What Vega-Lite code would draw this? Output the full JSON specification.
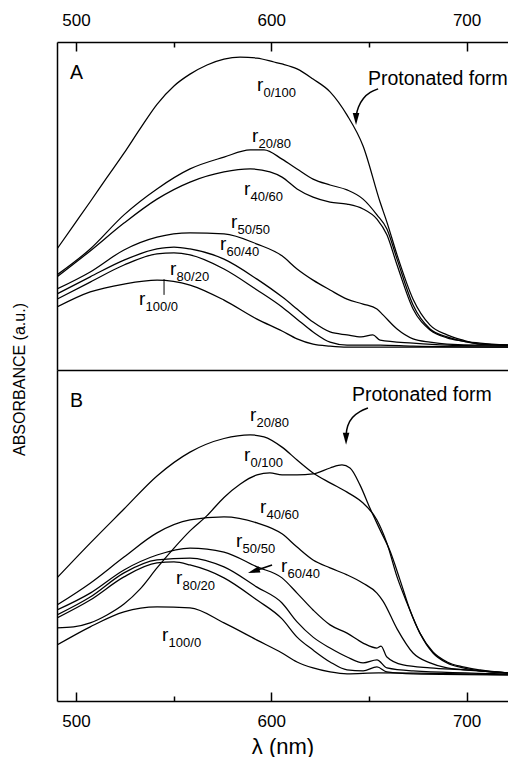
{
  "$schema": "https://vega.github.io/schema/vega-lite/v6.json",
  "padding": {"left": 11, "top": 7, "right": 0, "bottom": 0},
  "spacing": 0,
  "bounds": "flush",
  "config": {
    "font": "Liberation Sans",
    "view": {"stroke": null},
    "mark": {"color": "black"},
    "axis": {"grid": false, "domainColor": "black", "tickColor": "black", "labelColor": "black", "titleColor": "black", "domainWidth": 1.5, "tickWidth": 1.5, "labelFontSize": 17, "labelFont": "Liberation Sans", "titleFont": "Liberation Sans", "titleFontWeight": "normal"}
  },
  "datasets": {
    "A": [
      {"ratio":"0/100","lam":490.3,"abs":0.369},{"ratio":"0/100","lam":498.8,"abs":0.441},{"ratio":"0/100","lam":507.3,"abs":0.513},{"ratio":"0/100","lam":515.9,"abs":0.587},{"ratio":"0/100","lam":524.6,"abs":0.661},{"ratio":"0/100","lam":532.8,"abs":0.735},{"ratio":"0/100","lam":541.5,"abs":0.810},{"ratio":"0/100","lam":550.2,"abs":0.866},{"ratio":"0/100","lam":558.4,"abs":0.902},{"ratio":"0/100","lam":567.1,"abs":0.930},{"ratio":"0/100","lam":575.8,"abs":0.948},{"ratio":"0/100","lam":584.0,"abs":0.954},{"ratio":"0/100","lam":592.7,"abs":0.951},{"ratio":"0/100","lam":601.4,"abs":0.939},{"ratio":"0/100","lam":605.5,"abs":0.933},{"ratio":"0/100","lam":613.2,"abs":0.918},{"ratio":"0/100","lam":621.4,"abs":0.887},{"ratio":"0/100","lam":630.1,"abs":0.848},{"ratio":"0/100","lam":638.8,"abs":0.777},{"ratio":"0/100","lam":647.0,"abs":0.683},{"ratio":"0/100","lam":655.7,"abs":0.512},{"ratio":"0/100","lam":659.2,"abs":0.451},{"ratio":"0/100","lam":664.4,"abs":0.351},{"ratio":"0/100","lam":672.6,"abs":0.216},{"ratio":"0/100","lam":681.3,"abs":0.137},{"ratio":"0/100","lam":690.0,"abs":0.107},{"ratio":"0/100","lam":698.2,"abs":0.091},{"ratio":"0/100","lam":706.9,"abs":0.079},{"ratio":"0/100","lam":721.2,"abs":0.076},
      {"ratio":"20/80","lam":490.3,"abs":0.290},{"ratio":"20/80","lam":507.3,"abs":0.369},{"ratio":"20/80","lam":524.6,"abs":0.473},{"ratio":"20/80","lam":541.5,"abs":0.552},{"ratio":"20/80","lam":558.4,"abs":0.613},{"ratio":"20/80","lam":575.8,"abs":0.649},{"ratio":"20/80","lam":589.2,"abs":0.671},{"ratio":"20/80","lam":596.3,"abs":0.671},{"ratio":"20/80","lam":605.5,"abs":0.643},{"ratio":"20/80","lam":613.2,"abs":0.613},{"ratio":"20/80","lam":621.4,"abs":0.582},{"ratio":"20/80","lam":630.1,"abs":0.564},{"ratio":"20/80","lam":638.8,"abs":0.549},{"ratio":"20/80","lam":647.0,"abs":0.521},{"ratio":"20/80","lam":654.1,"abs":0.473},{"ratio":"20/80","lam":659.2,"abs":0.430},{"ratio":"20/80","lam":664.4,"abs":0.338},{"ratio":"20/80","lam":672.6,"abs":0.198},{"ratio":"20/80","lam":681.3,"abs":0.125},{"ratio":"20/80","lam":690.0,"abs":0.101},{"ratio":"20/80","lam":698.2,"abs":0.088},{"ratio":"20/80","lam":706.9,"abs":0.082},{"ratio":"20/80","lam":721.2,"abs":0.076},
      {"ratio":"40/60","lam":490.3,"abs":0.284},{"ratio":"40/60","lam":507.3,"abs":0.363},{"ratio":"40/60","lam":524.6,"abs":0.448},{"ratio":"40/60","lam":541.5,"abs":0.521},{"ratio":"40/60","lam":558.4,"abs":0.573},{"ratio":"40/60","lam":575.8,"abs":0.604},{"ratio":"40/60","lam":589.2,"abs":0.613},{"ratio":"40/60","lam":599.3,"abs":0.604},{"ratio":"40/60","lam":605.5,"abs":0.588},{"ratio":"40/60","lam":613.2,"abs":0.552},{"ratio":"40/60","lam":621.4,"abs":0.527},{"ratio":"40/60","lam":630.1,"abs":0.512},{"ratio":"40/60","lam":638.8,"abs":0.506},{"ratio":"40/60","lam":647.0,"abs":0.491},{"ratio":"40/60","lam":654.1,"abs":0.460},{"ratio":"40/60","lam":659.2,"abs":0.412},{"ratio":"40/60","lam":664.4,"abs":0.320},{"ratio":"40/60","lam":672.6,"abs":0.186},{"ratio":"40/60","lam":681.3,"abs":0.122},{"ratio":"40/60","lam":690.0,"abs":0.098},{"ratio":"40/60","lam":698.2,"abs":0.088},{"ratio":"40/60","lam":706.9,"abs":0.079},{"ratio":"40/60","lam":721.2,"abs":0.076},
      {"ratio":"50/50","lam":490.3,"abs":0.247},{"ratio":"50/50","lam":507.3,"abs":0.299},{"ratio":"50/50","lam":524.6,"abs":0.366},{"ratio":"50/50","lam":541.5,"abs":0.405},{"ratio":"50/50","lam":558.4,"abs":0.418},{"ratio":"50/50","lam":575.8,"abs":0.415},{"ratio":"50/50","lam":592.7,"abs":0.384},{"ratio":"50/50","lam":605.5,"abs":0.348},{"ratio":"50/50","lam":613.2,"abs":0.308},{"ratio":"50/50","lam":621.4,"abs":0.274},{"ratio":"50/50","lam":630.1,"abs":0.244},{"ratio":"50/50","lam":638.8,"abs":0.216},{"ratio":"50/50","lam":647.0,"abs":0.201},{"ratio":"50/50","lam":654.1,"abs":0.186},{"ratio":"50/50","lam":657.2,"abs":0.168},{"ratio":"50/50","lam":664.4,"abs":0.125},{"ratio":"50/50","lam":672.6,"abs":0.095},{"ratio":"50/50","lam":681.3,"abs":0.085},{"ratio":"50/50","lam":690.0,"abs":0.079},{"ratio":"50/50","lam":706.9,"abs":0.076},{"ratio":"50/50","lam":721.2,"abs":0.076},
      {"ratio":"60/40","lam":490.3,"abs":0.232},{"ratio":"60/40","lam":507.3,"abs":0.284},{"ratio":"60/40","lam":524.6,"abs":0.335},{"ratio":"60/40","lam":541.5,"abs":0.369},{"ratio":"60/40","lam":550.2,"abs":0.375},{"ratio":"60/40","lam":558.4,"abs":0.369},{"ratio":"60/40","lam":575.8,"abs":0.338},{"ratio":"60/40","lam":592.7,"abs":0.277},{"ratio":"60/40","lam":605.5,"abs":0.223},{"ratio":"60/40","lam":613.2,"abs":0.186},{"ratio":"60/40","lam":621.4,"abs":0.146},{"ratio":"60/40","lam":630.1,"abs":0.116},{"ratio":"60/40","lam":638.8,"abs":0.107},{"ratio":"60/40","lam":646.0,"abs":0.101},{"ratio":"60/40","lam":652.0,"abs":0.107},{"ratio":"60/40","lam":655.7,"abs":0.091},{"ratio":"60/40","lam":672.6,"abs":0.082},{"ratio":"60/40","lam":690.0,"abs":0.076},{"ratio":"60/40","lam":721.2,"abs":0.073},
      {"ratio":"80/20","lam":490.3,"abs":0.216},{"ratio":"80/20","lam":507.3,"abs":0.268},{"ratio":"80/20","lam":524.6,"abs":0.320},{"ratio":"80/20","lam":541.5,"abs":0.354},{"ratio":"80/20","lam":550.2,"abs":0.357},{"ratio":"80/20","lam":558.4,"abs":0.351},{"ratio":"80/20","lam":575.8,"abs":0.308},{"ratio":"80/20","lam":592.7,"abs":0.244},{"ratio":"80/20","lam":605.5,"abs":0.192},{"ratio":"80/20","lam":613.2,"abs":0.155},{"ratio":"80/20","lam":621.4,"abs":0.116},{"ratio":"80/20","lam":630.1,"abs":0.085},{"ratio":"80/20","lam":638.8,"abs":0.076},{"ratio":"80/20","lam":655.7,"abs":0.076},{"ratio":"80/20","lam":672.6,"abs":0.073},{"ratio":"80/20","lam":721.2,"abs":0.070},
      {"ratio":"100/0","lam":490.3,"abs":0.192},{"ratio":"100/0","lam":507.3,"abs":0.238},{"ratio":"100/0","lam":524.6,"abs":0.262},{"ratio":"100/0","lam":541.5,"abs":0.274},{"ratio":"100/0","lam":558.4,"abs":0.259},{"ratio":"100/0","lam":575.8,"abs":0.213},{"ratio":"100/0","lam":592.7,"abs":0.155},{"ratio":"100/0","lam":605.5,"abs":0.119},{"ratio":"100/0","lam":613.2,"abs":0.095},{"ratio":"100/0","lam":621.4,"abs":0.079},{"ratio":"100/0","lam":630.1,"abs":0.073},{"ratio":"100/0","lam":638.8,"abs":0.070},{"ratio":"100/0","lam":672.6,"abs":0.070},{"ratio":"100/0","lam":721.2,"abs":0.070}
    ],
    "B": [
      {"ratio":"20/80","lam":490.3,"abs":0.372},{"ratio":"20/80","lam":507.3,"abs":0.477},{"ratio":"20/80","lam":524.6,"abs":0.580},{"ratio":"20/80","lam":541.5,"abs":0.680},{"ratio":"20/80","lam":558.4,"abs":0.752},{"ratio":"20/80","lam":575.8,"abs":0.793},{"ratio":"20/80","lam":589.2,"abs":0.804},{"ratio":"20/80","lam":596.3,"abs":0.798},{"ratio":"20/80","lam":605.5,"abs":0.767},{"ratio":"20/80","lam":613.2,"abs":0.728},{"ratio":"20/80","lam":621.4,"abs":0.689},{"ratio":"20/80","lam":630.1,"abs":0.659},{"ratio":"20/80","lam":638.8,"abs":0.631},{"ratio":"20/80","lam":647.0,"abs":0.598},{"ratio":"20/80","lam":654.1,"abs":0.547},{"ratio":"20/80","lam":659.2,"abs":0.477},{"ratio":"20/80","lam":664.4,"abs":0.375},{"ratio":"20/80","lam":669.5,"abs":0.296},{"ratio":"20/80","lam":676.1,"abs":0.205},{"ratio":"20/80","lam":682.8,"abs":0.145},{"ratio":"20/80","lam":690.0,"abs":0.115},{"ratio":"20/80","lam":698.2,"abs":0.100},{"ratio":"20/80","lam":706.9,"abs":0.091},{"ratio":"20/80","lam":721.2,"abs":0.085},
      {"ratio":"0/100","lam":490.3,"abs":0.221},{"ratio":"0/100","lam":498.8,"abs":0.224},{"ratio":"0/100","lam":507.3,"abs":0.236},{"ratio":"0/100","lam":515.9,"abs":0.260},{"ratio":"0/100","lam":524.6,"abs":0.293},{"ratio":"0/100","lam":532.8,"abs":0.338},{"ratio":"0/100","lam":541.5,"abs":0.402},{"ratio":"0/100","lam":550.2,"abs":0.462},{"ratio":"0/100","lam":558.4,"abs":0.514},{"ratio":"0/100","lam":567.1,"abs":0.560},{"ratio":"0/100","lam":575.8,"abs":0.615},{"ratio":"0/100","lam":584.0,"abs":0.655},{"ratio":"0/100","lam":592.7,"abs":0.683},{"ratio":"0/100","lam":599.3,"abs":0.689},{"ratio":"0/100","lam":605.5,"abs":0.683},{"ratio":"0/100","lam":613.2,"abs":0.683},{"ratio":"0/100","lam":621.4,"abs":0.686},{"ratio":"0/100","lam":630.1,"abs":0.704},{"ratio":"0/100","lam":636.2,"abs":0.713},{"ratio":"0/100","lam":640.3,"abs":0.704},{"ratio":"0/100","lam":645.4,"abs":0.653},{"ratio":"0/100","lam":650.5,"abs":0.583},{"ratio":"0/100","lam":655.7,"abs":0.517},{"ratio":"0/100","lam":660.8,"abs":0.453},{"ratio":"0/100","lam":665.9,"abs":0.366},{"ratio":"0/100","lam":671.0,"abs":0.275},{"ratio":"0/100","lam":676.1,"abs":0.205},{"ratio":"0/100","lam":682.8,"abs":0.148},{"ratio":"0/100","lam":690.0,"abs":0.118},{"ratio":"0/100","lam":698.2,"abs":0.103},{"ratio":"0/100","lam":706.9,"abs":0.094},{"ratio":"0/100","lam":721.2,"abs":0.085},
      {"ratio":"40/60","lam":490.3,"abs":0.290},{"ratio":"40/60","lam":507.3,"abs":0.356},{"ratio":"40/60","lam":524.6,"abs":0.435},{"ratio":"40/60","lam":541.5,"abs":0.508},{"ratio":"40/60","lam":558.4,"abs":0.547},{"ratio":"40/60","lam":575.8,"abs":0.556},{"ratio":"40/60","lam":592.7,"abs":0.538},{"ratio":"40/60","lam":605.5,"abs":0.505},{"ratio":"40/60","lam":613.2,"abs":0.465},{"ratio":"40/60","lam":621.4,"abs":0.426},{"ratio":"40/60","lam":630.1,"abs":0.402},{"ratio":"40/60","lam":638.8,"abs":0.381},{"ratio":"40/60","lam":647.0,"abs":0.356},{"ratio":"40/60","lam":654.1,"abs":0.326},{"ratio":"40/60","lam":657.2,"abs":0.302},{"ratio":"40/60","lam":664.4,"abs":0.218},{"ratio":"40/60","lam":672.6,"abs":0.145},{"ratio":"40/60","lam":681.3,"abs":0.115},{"ratio":"40/60","lam":690.0,"abs":0.100},{"ratio":"40/60","lam":706.9,"abs":0.091},{"ratio":"40/60","lam":721.2,"abs":0.085},
      {"ratio":"50/50","lam":490.3,"abs":0.275},{"ratio":"50/50","lam":507.3,"abs":0.326},{"ratio":"50/50","lam":524.6,"abs":0.396},{"ratio":"50/50","lam":541.5,"abs":0.441},{"ratio":"50/50","lam":558.4,"abs":0.462},{"ratio":"50/50","lam":575.8,"abs":0.450},{"ratio":"50/50","lam":592.7,"abs":0.405},{"ratio":"50/50","lam":605.5,"abs":0.372},{"ratio":"50/50","lam":613.2,"abs":0.326},{"ratio":"50/50","lam":621.4,"abs":0.275},{"ratio":"50/50","lam":630.1,"abs":0.230},{"ratio":"50/50","lam":638.8,"abs":0.205},{"ratio":"50/50","lam":647.0,"abs":0.175},{"ratio":"50/50","lam":654.1,"abs":0.160},{"ratio":"50/50","lam":656.2,"abs":0.166},{"ratio":"50/50","lam":659.2,"abs":0.133},{"ratio":"50/50","lam":667.5,"abs":0.109},{"ratio":"50/50","lam":681.3,"abs":0.100},{"ratio":"50/50","lam":698.2,"abs":0.094},{"ratio":"50/50","lam":721.2,"abs":0.085},
      {"ratio":"60/40","lam":490.3,"abs":0.260},{"ratio":"60/40","lam":507.3,"abs":0.314},{"ratio":"60/40","lam":524.6,"abs":0.387},{"ratio":"60/40","lam":541.5,"abs":0.426},{"ratio":"60/40","lam":558.4,"abs":0.432},{"ratio":"60/40","lam":575.8,"abs":0.405},{"ratio":"60/40","lam":592.7,"abs":0.344},{"ratio":"60/40","lam":605.5,"abs":0.296},{"ratio":"60/40","lam":613.2,"abs":0.239},{"ratio":"60/40","lam":621.4,"abs":0.193},{"ratio":"60/40","lam":630.1,"abs":0.160},{"ratio":"60/40","lam":638.8,"abs":0.133},{"ratio":"60/40","lam":647.0,"abs":0.115},{"ratio":"60/40","lam":654.1,"abs":0.124},{"ratio":"60/40","lam":659.2,"abs":0.100},{"ratio":"60/40","lam":672.6,"abs":0.091},{"ratio":"60/40","lam":721.2,"abs":0.082},
      {"ratio":"80/20","lam":490.3,"abs":0.251},{"ratio":"80/20","lam":507.3,"abs":0.305},{"ratio":"80/20","lam":524.6,"abs":0.375},{"ratio":"80/20","lam":541.5,"abs":0.417},{"ratio":"80/20","lam":550.2,"abs":0.420},{"ratio":"80/20","lam":558.4,"abs":0.411},{"ratio":"80/20","lam":575.8,"abs":0.372},{"ratio":"80/20","lam":592.7,"abs":0.305},{"ratio":"80/20","lam":605.5,"abs":0.248},{"ratio":"80/20","lam":613.2,"abs":0.193},{"ratio":"80/20","lam":621.4,"abs":0.154},{"ratio":"80/20","lam":630.1,"abs":0.118},{"ratio":"80/20","lam":638.8,"abs":0.094},{"ratio":"80/20","lam":647.0,"abs":0.091},{"ratio":"80/20","lam":654.1,"abs":0.103},{"ratio":"80/20","lam":659.2,"abs":0.088},{"ratio":"80/20","lam":672.6,"abs":0.082},{"ratio":"80/20","lam":721.2,"abs":0.079},
      {"ratio":"100/0","lam":490.3,"abs":0.169},{"ratio":"100/0","lam":507.3,"abs":0.224},{"ratio":"100/0","lam":524.6,"abs":0.269},{"ratio":"100/0","lam":541.5,"abs":0.284},{"ratio":"100/0","lam":558.4,"abs":0.281},{"ratio":"100/0","lam":575.8,"abs":0.236},{"ratio":"100/0","lam":592.7,"abs":0.184},{"ratio":"100/0","lam":605.5,"abs":0.145},{"ratio":"100/0","lam":613.2,"abs":0.118},{"ratio":"100/0","lam":621.4,"abs":0.100},{"ratio":"100/0","lam":630.1,"abs":0.088},{"ratio":"100/0","lam":638.8,"abs":0.082},{"ratio":"100/0","lam":655.0,"abs":0.085},{"ratio":"100/0","lam":721.2,"abs":0.079}
    ],
    "labA": [
      {"lam":592.7,"abs":0.851,"sub":"0/100"},{"lam":590.1,"abs":0.695,"sub":"20/80"},{"lam":586.0,"abs":0.534,"sub":"40/60"},{"lam":579.4,"abs":0.433,"sub":"50/50"},{"lam":573.8,"abs":0.366,"sub":"60/40"},{"lam":548.2,"abs":0.290,"sub":"80/20"},{"lam":532.3,"abs":0.198,"sub":"100/0"}
    ],
    "labB": [
      {"lam":589.1,"abs":0.846,"sub":"20/80"},{"lam":586.0,"abs":0.725,"sub":"0/100"},{"lam":594.2,"abs":0.568,"sub":"40/60"},{"lam":582.0,"abs":0.465,"sub":"50/50"},{"lam":605.0,"abs":0.390,"sub":"60/40"},{"lam":551.2,"abs":0.353,"sub":"80/20"},{"lam":544.1,"abs":0.181,"sub":"100/0"}
    ],
    "noteA": [{"lam":497.0,"abs":0.887,"t":"A"},{"lam":649.5,"abs":0.869,"t":"Protonated form"}],
    "noteB": [{"lam":497.0,"abs":0.888,"t":"B"},{"lam":641.3,"abs":0.906,"t":"Protonated form"}],
    "arrowA": [
      {"g":1,"o":1,"lam":654.7,"abs":0.857},{"g":1,"o":2,"lam":650.6,"abs":0.848},{"g":1,"o":3,"lam":647.0,"abs":0.829},{"g":1,"o":4,"lam":644.4,"abs":0.802},{"g":1,"o":5,"lam":643.4,"abs":0.775},{"g":1,"o":6,"lam":643.4,"abs":0.765}
    ],
    "headA": [{"lam":643.4,"abs":0.765}],
    "pointerA": [{"lam":545.1,"abs":0.277,"abs2":0.229}],
    "arrowB": [
      {"g":1,"o":1,"lam":649.5,"abs":0.885},{"g":1,"o":2,"lam":645.4,"abs":0.876},{"g":1,"o":3,"lam":641.3,"abs":0.858},{"g":1,"o":4,"lam":638.8,"abs":0.831},{"g":1,"o":5,"lam":638.3,"abs":0.804},{"g":1,"o":6,"lam":638.3,"abs":0.792},
      {"g":2,"o":1,"lam":600.4,"abs":0.411},{"g":2,"o":2,"lam":591.0,"abs":0.392}
    ],
    "headB": [{"lam":638.3,"abs":0.792,"k":"down"},{"lam":591.0,"abs":0.392,"k":"side"}]
  },
  "vconcat": [
    {
      "width": 451,
      "height": 328,
      "layer": [
        {
          "data": {"name": "A"},
          "mark": {"type": "line", "strokeWidth": 1.25, "clip": true, "interpolate": "monotone"},
          "encoding": {
            "x": {"field": "lam", "type": "quantitative", "title": null, "scale": {"domain": [490.3, 721.2], "nice": false, "zero": false},
              "axis": {"orient": "top", "title": null, "values": [500, 550, 600, 650, 700], "labelExpr": "datum.value % 100 === 0 ? datum.label : ''", "tickSize": {"condition": {"test": "datum.value % 100 !== 0", "value": -5}, "value": -9}, "labelPadding": 22, "labelFlush": false, "labelOverlap": false}},
            "y": {"field": "abs", "type": "quantitative", "title": "ABSORBANCE (a.u.)", "scale": {"domain": [0, 1], "nice": false, "zero": false},
              "axis": {"title": "ABSORBANCE (a.u.)", "labels": false, "ticks": false, "titleFontSize": 16, "titleX": -30, "titleY": 337, "titleAngle": -90, "titleAlign": "center", "titleBaseline": "bottom"}},
            "detail": {"field": "ratio"},
            "order": {"field": "lam"}
          }
        },
        {
          "data": {"name": "labA"},
          "mark": {"type": "text", "text": "r", "fontSize": 19, "align": "left", "baseline": "alphabetic"},
          "encoding": {
            "x": {"field": "lam", "type": "quantitative", "title": null, "scale": {"domain": [490.3, 721.2], "nice": false, "zero": false}},
            "y": {"field": "abs", "type": "quantitative", "title": "ABSORBANCE (a.u.)", "scale": {"domain": [0, 1], "nice": false, "zero": false}}
          }
        },
        {
          "data": {"name": "labA"},
          "mark": {"type": "text", "fontSize": 13, "align": "left", "baseline": "alphabetic", "dx": 6.5, "dy": 6},
          "encoding": {
            "x": {"field": "lam", "type": "quantitative", "title": null, "scale": {"domain": [490.3, 721.2], "nice": false, "zero": false}},
            "y": {"field": "abs", "type": "quantitative", "title": "ABSORBANCE (a.u.)", "scale": {"domain": [0, 1], "nice": false, "zero": false}},
            "text": {"field": "sub"}
          }
        },
        {
          "data": {"name": "noteA"},
          "mark": {"type": "text", "fontSize": 19.5, "align": "left", "baseline": "alphabetic", "clip": true},
          "encoding": {
            "x": {"field": "lam", "type": "quantitative", "title": null, "scale": {"domain": [490.3, 721.2], "nice": false, "zero": false}},
            "y": {"field": "abs", "type": "quantitative", "title": "ABSORBANCE (a.u.)", "scale": {"domain": [0, 1], "nice": false, "zero": false}},
            "text": {"field": "t"}
          }
        },
        {
          "data": {"name": "arrowA"},
          "mark": {"type": "line", "strokeWidth": 1.5, "interpolate": "basis"},
          "encoding": {
            "x": {"field": "lam", "type": "quantitative", "title": null, "scale": {"domain": [490.3, 721.2], "nice": false, "zero": false}},
            "y": {"field": "abs", "type": "quantitative", "title": "ABSORBANCE (a.u.)", "scale": {"domain": [0, 1], "nice": false, "zero": false}},
            "detail": {"field": "g"},
            "order": {"field": "o"}
          }
        },
        {
          "data": {"name": "headA"},
          "mark": {"type": "point", "shape": "M-0.55,-1L0.55,-1L0,1Z", "size": 144, "filled": true, "opacity": 1},
          "encoding": {
            "x": {"field": "lam", "type": "quantitative", "title": null, "scale": {"domain": [490.3, 721.2], "nice": false, "zero": false}},
            "y": {"field": "abs", "type": "quantitative", "title": "ABSORBANCE (a.u.)", "scale": {"domain": [0, 1], "nice": false, "zero": false}}
          }
        },
        {
          "data": {"name": "pointerA"},
          "mark": {"type": "rule", "strokeWidth": 1},
          "encoding": {
            "x": {"field": "lam", "type": "quantitative", "title": null, "scale": {"domain": [490.3, 721.2], "nice": false, "zero": false}},
            "y": {"field": "abs", "type": "quantitative", "title": "ABSORBANCE (a.u.)", "scale": {"domain": [0, 1], "nice": false, "zero": false}},
            "y2": {"field": "abs2"}
          }
        }
      ]
    },
    {
      "width": 451,
      "height": 331,
      "resolve": {"axis": {"x": "independent"}},
      "layer": [
        {
          "data": {"name": "B"},
          "mark": {"type": "line", "strokeWidth": 1.25, "clip": true, "interpolate": "monotone"},
          "encoding": {
            "x": {"field": "lam", "type": "quantitative", "scale": {"domain": [490.3, 721.2], "nice": false, "zero": false},
              "axis": {"orient": "bottom", "title": "λ (nm)", "titleFontSize": 22, "titlePadding": 3, "values": [500, 550, 600, 650, 700], "labelExpr": "datum.value % 100 === 0 ? datum.label : ''", "tickSize": {"condition": {"test": "datum.value % 100 !== 0", "value": -5}, "value": -9}, "labelPadding": 21, "labelFlush": false, "labelOverlap": false}},
            "y": {"field": "abs", "type": "quantitative", "title": null, "scale": {"domain": [0, 1], "nice": false, "zero": false},
              "axis": {"title": null, "labels": false, "ticks": false}},
            "detail": {"field": "ratio"},
            "order": {"field": "lam"}
          }
        },
        {
          "data": {"name": "labB"},
          "mark": {"type": "text", "text": "r", "fontSize": 19, "align": "left", "baseline": "alphabetic"},
          "encoding": {
            "x": {"field": "lam", "type": "quantitative", "scale": {"domain": [490.3, 721.2], "nice": false, "zero": false},
              "axis": {"orient": "top", "title": null, "labels": false, "ticks": false, "domain": true}},
            "y": {"field": "abs", "type": "quantitative", "title": null, "scale": {"domain": [0, 1], "nice": false, "zero": false}}
          }
        },
        {
          "data": {"name": "labB"},
          "mark": {"type": "text", "fontSize": 13, "align": "left", "baseline": "alphabetic", "dx": 6.5, "dy": 6},
          "encoding": {
            "x": {"field": "lam", "type": "quantitative", "scale": {"domain": [490.3, 721.2], "nice": false, "zero": false}, "axis": null},
            "y": {"field": "abs", "type": "quantitative", "title": null, "scale": {"domain": [0, 1], "nice": false, "zero": false}},
            "text": {"field": "sub"}
          }
        },
        {
          "data": {"name": "noteB"},
          "mark": {"type": "text", "fontSize": 19.5, "align": "left", "baseline": "alphabetic", "clip": true},
          "encoding": {
            "x": {"field": "lam", "type": "quantitative", "scale": {"domain": [490.3, 721.2], "nice": false, "zero": false}, "axis": null},
            "y": {"field": "abs", "type": "quantitative", "title": null, "scale": {"domain": [0, 1], "nice": false, "zero": false}},
            "text": {"field": "t"}
          }
        },
        {
          "data": {"name": "arrowB"},
          "mark": {"type": "line", "strokeWidth": 1.5, "interpolate": "basis"},
          "encoding": {
            "x": {"field": "lam", "type": "quantitative", "scale": {"domain": [490.3, 721.2], "nice": false, "zero": false}, "axis": null},
            "y": {"field": "abs", "type": "quantitative", "title": null, "scale": {"domain": [0, 1], "nice": false, "zero": false}},
            "detail": {"field": "g"},
            "order": {"field": "o"}
          }
        },
        {
          "data": {"name": "headB"},
          "transform": [{"filter": "datum.k === 'down'"}],
          "mark": {"type": "point", "shape": "M-0.55,-1L0.55,-1L0,1Z", "size": 144, "filled": true, "opacity": 1},
          "encoding": {
            "x": {"field": "lam", "type": "quantitative", "scale": {"domain": [490.3, 721.2], "nice": false, "zero": false}, "axis": null},
            "y": {"field": "abs", "type": "quantitative", "title": null, "scale": {"domain": [0, 1], "nice": false, "zero": false}}
          }
        },
        {
          "data": {"name": "headB"},
          "transform": [{"filter": "datum.k === 'side'"}],
          "mark": {"type": "point", "shape": "M-0.55,-1L0.55,-1L0,1Z", "size": 144, "filled": true, "opacity": 1, "angle": 72},
          "encoding": {
            "x": {"field": "lam", "type": "quantitative", "scale": {"domain": [490.3, 721.2], "nice": false, "zero": false}, "axis": null},
            "y": {"field": "abs", "type": "quantitative", "title": null, "scale": {"domain": [0, 1], "nice": false, "zero": false}}
          }
        }
      ]
    }
  ]
}
